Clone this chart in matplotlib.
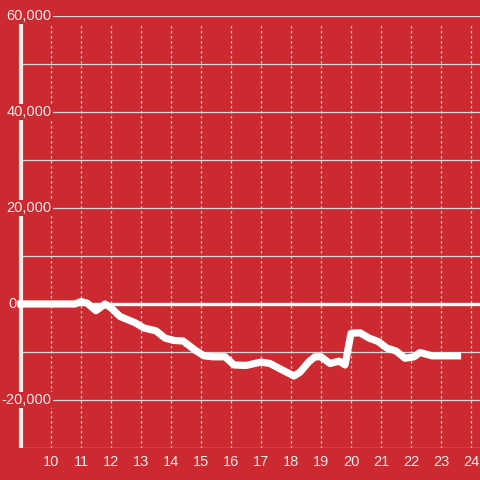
import matplotlib
matplotlib.use("Agg")
import matplotlib.pyplot as plt

# Data (hour of day vs value)
hours = [9.0, 10.0, 10.8, 11.0, 11.2, 11.5, 11.8, 12.0, 12.3, 12.8, 13.1, 13.5, 13.8, 14.1,
         14.4, 14.8, 15.1, 15.4, 15.8, 16.1, 16.5, 17.0, 17.3, 17.6, 18.1, 18.3, 18.6, 18.8,
         19.0, 19.3, 19.6, 19.8, 20.0, 20.3, 20.6, 20.9, 21.2, 21.5, 21.8, 22.1, 22.3, 22.7,
         23.0, 23.55]
values = [0, 0, 0, 500, 200, -1400, 0, -800, -2600, -3900, -5000, -5600, -7100, -7600,
          -7700, -9600, -10800, -11000, -11000, -12700, -12800, -12100, -12400, -13400, -15000, -14200, -12000, -11000,
          -11000, -12400, -11900, -12700, -6100, -6000, -7100, -7800, -9200, -9800, -11300, -11000, -10100, -10800,
          -10800, -10800]

xtick_values = list(range(10, 25))
ytick_values = [-20000, 0, 20000, 40000, 60000]
ytick_labels = ["-20,000", "0", "20,000", "40,000", "60,000"]
grid_values = list(range(-30000, 60001, 10000))

bg = "#cc2a30"
txt = "#f8ecec"
grid = "#e2d6d6"

plt.rcParams['font.family'] = ['Liberation Sans', 'DejaVu Sans']

fig = plt.figure(figsize=(4.8, 4.8), dpi=100, facecolor=bg)
ax = fig.add_axes([21/480, 1 - 448/480, 1 - 21/480, 432/480])
ax.set_facecolor(bg)
ax.set_xlim(9, 24.3)
ax.set_ylim(-30000, 60000)
for s in ax.spines.values():
    s.set_visible(False)

# horizontal grid
for g in grid_values:
    if g == 0:
        continue
    ax.axhline(g, color=grid, lw=0.9, zorder=1)
# vertical dotted grid
for h in xtick_values:
    ax.plot([h, h], [-30000, 58500], color=grid, lw=0.9, ls=(0, (2, 2)), zorder=1)

# zero line
ax.axhline(0, color="white", lw=2.4, zorder=2)
# left axis line
ax.plot([9, 9], [-30000, 58400], color="#f2eeee", lw=3, zorder=2, clip_on=False, solid_capstyle='butt')

# data line
ax.plot(hours, values, color="white", lw=5.2, zorder=3, solid_joinstyle='round',
        solid_capstyle='projecting', clip_on=False)

# y labels
for v, lab in zip(ytick_values, ytick_labels):
    if v == 0:
        ax.text(8.86, v, lab, ha='right', va='center', color=txt, fontsize=10.5, zorder=5,
                clip_on=False)
    else:
        ax.text(10.02, v, lab, ha='right', va='center', color=txt, fontsize=10.5, zorder=5,
                bbox=dict(facecolor=bg, edgecolor='none', pad=1.0), clip_on=False)

ax.set_yticks([])
ax.set_xticks(xtick_values)
ax.set_xticklabels([str(h) for h in xtick_values])
ax.tick_params(axis='x', length=0, pad=5, colors=txt, labelsize=10.5)

fig.savefig("out.png", dpi=100, facecolor=bg)
